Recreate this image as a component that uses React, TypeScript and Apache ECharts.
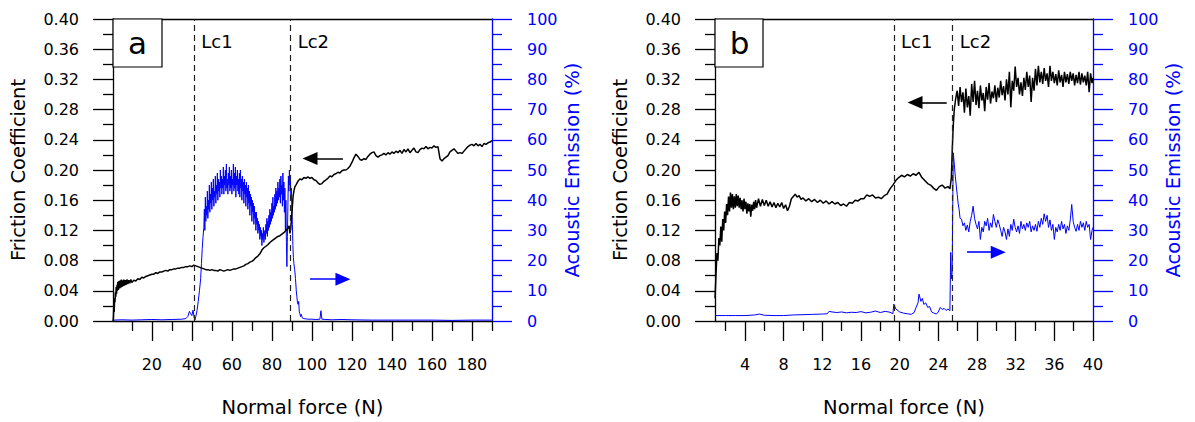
import React, { useEffect, useRef } from 'react';
import * as echarts from 'echarts';

// ---------- Panel a data ----------
const aFriction: number[][] = [
  [0.6,0.0],[0.8,0.005],[1.0,0.02],[1.2,0.012],[1.4,0.03],[1.6,0.025],[1.8,0.038],[2.0,0.032],[2.2,0.045],[2.4,0.036],
  [2.6,0.048],[2.8,0.040],[3.0,0.052],[3.3,0.041],[3.6,0.053],[3.9,0.043],[4.2,0.054],[4.5,0.044],[4.8,0.055],[5.1,0.045],
  [5.4,0.054],[5.7,0.046],[6.0,0.055],[6.4,0.047],[6.8,0.054],[7.2,0.048],[7.6,0.055],[8.0,0.049],[8.5,0.054],[9.0,0.050],
  [9.5,0.055],[10,0.051],[11,0.054],[12,0.053],[13,0.056],[14,0.055],[15,0.058],[16,0.057],[17,0.059],[18,0.060],
  [19,0.061],[20,0.062],[21,0.062],[22,0.064],[23,0.063],[24,0.065],[25,0.065],[26,0.066],[27,0.067],[28,0.066],
  [29,0.068],[30,0.068],[31,0.069],[32,0.069],[33,0.070],[34,0.070],[35,0.071],[36,0.071],[37,0.072],[38,0.072],
  [39,0.073],[40,0.072],[41,0.074],[42,0.073],[43,0.072],[44,0.071],[45,0.070],[46,0.069],[47,0.068],[48,0.068],
  [49,0.067],[50,0.068],[51,0.067],[52,0.067],[53,0.066],[54,0.068],[55,0.067],[56,0.066],[57,0.067],[58,0.068],
  [59,0.067],[60,0.068],[61,0.069],[62,0.069],[63,0.070],[64,0.071],[65,0.072],[66,0.073],[67,0.075],[68,0.076],
  [69,0.078],[70,0.079],[71,0.081],[72,0.084],[73,0.086],[74,0.089],[75,0.094],[76,0.097],[77,0.099],[78,0.101],
  [79,0.104],[80,0.106],[81,0.108],[82,0.110],[83,0.112],[84,0.113],[85,0.115],[86,0.117],[87,0.120],[88,0.123],
  [88.6,0.126],[89.0,0.116],[89.4,0.122],[89.8,0.135],[90.2,0.150],[90.6,0.165],[91.0,0.172],[91.5,0.178],[92,0.180],[93,0.185],
  [94,0.188],[95,0.187],[96,0.190],[97,0.189],[98,0.191],[99,0.189],[100,0.190],[101,0.187],[102,0.186],[103,0.183],
  [104,0.181],[105,0.182],[106,0.185],[107,0.187],[108,0.189],[109,0.192],[110,0.191],[111,0.194],[112,0.195],[113,0.197],
  [114,0.196],[115,0.199],[116,0.200],[117,0.200],[118,0.202],[119,0.205],[120,0.210],[121,0.216],[122,0.221],[123,0.218],
  [124,0.214],[125,0.213],[126,0.215],[127,0.214],[128,0.218],[129,0.221],[130,0.223],[131,0.224],[132,0.219],[133,0.217],
  [134,0.219],[135,0.220],[136,0.222],[137,0.220],[138,0.223],[139,0.221],[140,0.224],[141,0.222],[142,0.225],[143,0.223],
  [144,0.226],[145,0.222],[146,0.227],[147,0.224],[148,0.228],[149,0.223],[150,0.226],[151,0.229],[152,0.224],[153,0.223],
  [154,0.227],[155,0.229],[156,0.228],[157,0.231],[158,0.228],[159,0.230],[160,0.229],[161,0.232],[162,0.230],[163,0.231],
  [164,0.215],[165,0.212],[166,0.215],[167,0.217],[168,0.219],[169,0.224],[170,0.226],[171,0.228],[172,0.225],[173,0.222],
  [174,0.223],[175,0.222],[176,0.225],[177,0.228],[178,0.231],[179,0.233],[180,0.234],[181,0.232],[182,0.235],[183,0.232],
  [184,0.234],[185,0.231],[186,0.235],[187,0.234],[188,0.236],[189,0.237],[190,0.239]
];

const aAE: number[][] = [
  [0.6,0.3],[5,0.4],[10,0.3],[15,0.4],[20,0.5],[25,0.4],[30,0.5],[35,0.6],[37,0.8],[38,1.5],
  [38.8,3.2],[39.4,2.4],[40,1.8],[40.6,3.6],[41.2,1.0],[41.6,0.4],[42,1.5],[42.6,3.5],[43.2,6.5],[43.8,10],
  [44.4,14],[44.8,19],[45.2,24],[45.6,28],
  [46.0,31],[46.25,37],[46.5,30],[46.75,41],[47.0,33],[47.25,38],[47.5,35],[47.75,43],[48.0,34],[48.25,40],
  [48.5,37],[48.75,45],[49.0,36],[49.25,42],[49.5,39],[49.75,46],[50.0,37],[50.25,44],[50.5,40],[50.75,47],
  [51.0,38],[51.25,43],[51.5,41],[51.75,48],[52.0,39],[52.25,45],[52.5,42],[52.75,49],[53.0,40],[53.25,47],
  [53.5,43],[53.75,46],[54.0,41],[54.25,50],[54.5,44],[54.75,48],[55.0,42],[55.25,47],[55.5,44],[55.75,51],
  [56.0,42],[56.25,48],[56.5,45],[56.75,50],[57.0,43],[57.25,52],[57.5,44],[57.75,47],[58.0,42],[58.25,49],
  [58.5,45],[58.75,51],[59.0,43],[59.25,48],[59.5,44],[59.75,50],[60.0,42],[60.25,47],[60.5,45],[60.75,52],
  [61.0,43],[61.25,49],[61.5,44],[61.75,51],[62.0,41],[62.25,48],[62.5,45],[62.75,50],[63.0,43],[63.25,47],
  [63.5,42],[63.75,49],[64.0,41],[64.25,50],[64.5,44],[64.75,47],[65.0,40],[65.25,48],[65.5,43],[65.75,46],
  [66.0,39],[66.25,47],[66.5,42],[66.75,45],[67.0,38],[67.25,46],[67.5,41],[67.75,44],[68.0,37],[68.25,45],
  [68.5,39],[68.75,43],[69.0,35],[69.25,42],[69.5,38],[69.75,41],[70.0,33],[70.25,40],[70.5,36],[70.75,39],
  [71.0,32],[71.25,38],[71.5,34],[71.75,36],[72.0,30],[72.25,36],[72.5,32],[72.75,34],[73.0,29],[73.25,33],
  [73.5,30],[73.75,32],[74.0,27],[74.25,31],[74.5,28],[74.75,30],[75.0,25],[75.25,29],[75.5,27],[75.75,31],
  [76.0,26],[76.25,28],[76.5,30],[76.75,27],[77.0,32],[77.25,29],[77.5,34],[77.75,28],[78.0,33],[78.25,30],
  [78.5,35],[78.75,31],[79.0,37],[79.25,32],[79.5,36],[79.75,33],[80.0,39],[80.25,34],[80.5,41],[80.75,35],
  [81.0,38],[81.25,36],[81.5,42],[81.75,37],[82.0,44],[82.25,38],[82.5,43],[82.75,39],[83.0,46],[83.25,40],
  [83.5,44],[83.75,41],[84.0,47],[84.25,39],[84.5,48],[84.75,42],[85.0,45],[85.25,38],[85.5,49],[85.75,40],
  [86.0,46],[86.25,36],[86.5,44],[86.75,30],[87.0,40],[87.25,26],[87.5,18],[87.75,28],[88.0,38],[88.25,48],
  [88.5,43],[88.75,50],[89.0,45],[89.25,48],[89.5,40],[89.75,44],[90.0,36],[90.25,32],[90.5,25],[90.75,21],
  [91,19],[91.4,17],[91.8,14],[92.2,10],[92.5,8],[92.8,6],[93.1,5.5],[93.4,6.5],[93.7,3],[94,2.5],
  [94.3,1.5],[94.7,2.2],[95.2,1],[96,0.8],[98,0.6],[100,0.6],[102,0.5],[104,0.6],[104.5,3.4],[105,0.6],
  [107,0.5],[110,0.4],[115,0.5],[120,0.4],[130,0.3],[140,0.3],[150,0.3],[160,0.3],[170,0.2],[180,0.3],[190,0.3]
];

// ---------- Panel b data ----------
const bFriction: number[][] = [
  [0.9,0.03],[1.0,0.06],[1.1,0.09],[1.2,0.08],[1.3,0.11],[1.4,0.10],[1.5,0.125],[1.6,0.105],[1.7,0.135],[1.8,0.12],
  [1.9,0.145],[2.0,0.13],[2.1,0.155],[2.2,0.14],[2.3,0.165],[2.4,0.145],[2.5,0.17],[2.6,0.15],[2.7,0.168],[2.8,0.148],
  [2.9,0.165],[3.0,0.15],[3.1,0.168],[3.2,0.152],[3.3,0.166],[3.4,0.15],[3.5,0.163],[3.6,0.148],[3.7,0.16],[3.8,0.145],
  [3.9,0.162],[4.0,0.148],[4.1,0.158],[4.2,0.142],[4.3,0.156],[4.4,0.145],[4.5,0.155],[4.6,0.138],[4.7,0.154],[4.8,0.146],
  [4.9,0.158],[5.0,0.148],[5.1,0.16],[5.2,0.15],[5.4,0.162],[5.6,0.152],[5.8,0.161],[6.0,0.153],[6.2,0.16],[6.4,0.152],
  [6.6,0.158],[6.8,0.151],[7.0,0.157],[7.2,0.15],[7.4,0.156],[7.6,0.151],[7.8,0.157],[8.0,0.149],[8.2,0.154],[8.4,0.146],
  [8.6,0.152],[8.8,0.162],[9.0,0.165],[9.2,0.168],[9.4,0.164],[9.6,0.166],[9.8,0.161],[10.0,0.163],[10.3,0.159],[10.6,0.162],
  [10.9,0.158],[11.2,0.161],[11.5,0.157],[11.8,0.16],[12.1,0.156],[12.4,0.159],[12.7,0.155],[13.0,0.158],[13.3,0.155],[13.6,0.157],
  [13.9,0.153],[14.2,0.155],[14.5,0.152],[14.8,0.157],[15.1,0.156],[15.4,0.16],[15.7,0.159],[16.0,0.162],[16.3,0.162],[16.6,0.167],
  [16.9,0.165],[17.2,0.167],[17.5,0.163],[17.8,0.164],[18.1,0.162],[18.4,0.166],[18.7,0.168],[19.0,0.175],[19.3,0.18],[19.6,0.186],
  [19.9,0.19],[20.2,0.193],[20.5,0.191],[20.8,0.194],[21.1,0.192],[21.4,0.195],[21.7,0.193],[22.0,0.197],[22.3,0.19],[22.6,0.186],
  [22.9,0.182],[23.2,0.18],[23.5,0.176],[23.8,0.173],[24.1,0.178],[24.4,0.18],[24.7,0.176],[25.0,0.178],[25.2,0.175],[25.35,0.19],
  [25.45,0.23],[25.55,0.26],[25.65,0.28],[25.8,0.295],[25.95,0.305],[26.1,0.285],[26.25,0.31],[26.4,0.29],[26.55,0.303],[26.7,0.276],
  [26.85,0.308],[27.0,0.283],[27.15,0.298],[27.3,0.272],[27.45,0.314],[27.6,0.29],[27.75,0.318],[27.9,0.286],[28.05,0.305],[28.2,0.282],
  [28.35,0.312],[28.5,0.292],[28.65,0.302],[28.8,0.278],[28.95,0.31],[29.1,0.293],[29.25,0.315],[29.4,0.288],[29.55,0.304],[29.7,0.295],
  [29.85,0.312],[30.0,0.29],[30.15,0.309],[30.3,0.296],[30.45,0.318],[30.6,0.299],[30.75,0.311],[30.9,0.292],[31.05,0.32],[31.2,0.3],
  [31.35,0.33],[31.5,0.283],[31.65,0.318],[31.8,0.305],[31.95,0.337],[32.1,0.31],[32.25,0.322],[32.4,0.3],[32.55,0.316],[32.7,0.298],
  [32.85,0.322],[33.0,0.306],[33.15,0.33],[33.3,0.31],[33.45,0.325],[33.6,0.29],[33.75,0.322],[33.9,0.305],[34.05,0.334],[34.2,0.312],
  [34.35,0.338],[34.5,0.316],[34.65,0.33],[34.8,0.314],[34.95,0.335],[35.1,0.318],[35.25,0.328],[35.4,0.31],[35.55,0.338],[35.7,0.318],
  [35.85,0.33],[36.0,0.315],[36.15,0.327],[36.3,0.312],[36.45,0.332],[36.6,0.316],[36.75,0.326],[36.9,0.31],[37.05,0.33],[37.2,0.316],
  [37.35,0.327],[37.5,0.314],[37.65,0.33],[37.8,0.318],[37.95,0.328],[38.1,0.312],[38.25,0.326],[38.4,0.315],[38.55,0.33],[38.7,0.313],
  [38.85,0.328],[39.0,0.316],[39.15,0.325],[39.3,0.312],[39.45,0.33],[39.6,0.303],[39.75,0.328],[39.9,0.315],[40.0,0.322]
];

const bAE: number[][] = [
  [0.9,1.8],[2,1.8],[3,1.8],[4,1.8],[5,2.0],[5.5,2.3],[6,1.9],[7,1.8],[8,1.8],[9,2.0],
  [10,2.1],[11,2.2],[12,2.3],[12.5,2.4],[12.7,3.2],[13,3.0],[13.5,2.8],[14,3.0],[14.5,2.7],[15,2.9],
  [15.5,2.8],[16,3.1],[16.5,2.7],[17,2.9],[17.5,3.3],[18,2.8],[18.5,3.2],[19,2.9],[19.3,2.4],[19.4,5.6],
  [19.6,4.0],[20,3.0],[20.4,2.6],[20.8,2.4],[21.2,2.2],[21.5,2.8],[21.7,4.5],[21.9,6.0],[22.0,8.9],[22.2,6.5],
  [22.35,7.5],[22.5,5.5],[22.7,6.0],[22.9,4.5],[23.1,4.8],[23.3,3.0],[23.5,2.7],[23.8,2.3],[24.0,3.0],[24.2,4.5],
  [24.4,3.8],[24.6,4.2],[24.8,3.5],[25.0,4.0],[25.2,3.4],[25.28,22.7],[25.35,14],[25.43,16],[25.5,40],[25.55,55.7],
  [25.65,52],[25.75,48],[25.85,45],[25.95,42],[26.05,39],[26.15,37],[26.25,34],[26.4,33.7],[26.55,31.5],[26.7,32.5],
  [26.85,30],[27.0,31.8],[27.15,29.5],[27.3,33],[27.45,35],[27.6,38],[27.75,34],[27.9,32],[28.05,30.5],[28.2,33],
  [28.35,27],[28.5,31],[28.65,29.5],[28.8,33],[28.95,31.5],[29.1,34],[29.25,30],[29.4,32.5],[29.55,31],[29.7,35.3],
  [29.85,33],[30.0,31],[30.15,33.5],[30.3,32],[30.45,30],[30.6,28],[30.75,31],[30.9,29.5],[31.05,27],[31.2,30.5],
  [31.35,28],[31.5,32],[31.65,30],[31.8,33.7],[31.95,31],[32.1,29.5],[32.25,31.5],[32.4,29],[32.55,33],[32.7,30.5],
  [32.85,32],[33.0,30],[33.15,32.5],[33.3,31],[33.45,33],[33.6,29.5],[33.75,31.5],[33.9,30],[34.05,32],[34.2,29.7],
  [34.35,33],[34.5,31],[34.65,34],[34.8,32],[34.95,35.5],[35.1,33],[35.25,35],[35.4,31],[35.55,33.5],[35.7,30],
  [35.85,32],[36.0,27],[36.15,31],[36.3,29.5],[36.45,32],[36.6,30],[36.75,33],[36.9,30.5],[37.05,32],[37.2,29],
  [37.35,31.5],[37.5,30],[37.65,33.5],[37.8,38.6],[37.95,33],[38.1,31],[38.25,29.7],[38.4,32],[38.55,30],[38.7,33],
  [38.85,31],[39.0,32.5],[39.15,30],[39.3,33],[39.45,31],[39.6,32],[39.75,27],[39.9,30],[40.0,31]
];

// ---------- Axis ticks & annotations ----------
const aXMajor = [20, 40, 60, 80, 100, 120, 140, 160, 180];
const aXMinor = [10, 30, 50, 70, 90, 110, 130, 150, 170, 190];
const bXMajor = [4, 8, 12, 16, 20, 24, 28, 32, 36, 40];
const bXMinor = [2, 6, 10, 14, 18, 22, 26, 30, 34, 38];
const aXRange = [0.6, 190];
const bXRange = [0.9, 40];
const aLc = [41.2, 89.4];
const bLc = [19.42, 25.49];
const lcNames = ['Lc1', 'Lc2'];
const lcLabelY = 0.37;
// arrows: [tailX, tipX, y]
const aFrictionArrow = [115.5, 99.05, 0.2152];
const aAEArrow = [99.05, 115.5, 13.86];
const bFrictionArrow = [24.87, 21.59, 0.2895];
const bAEArrow = [26.97, 30.2, 22.77];

const FONT = 'DejaVu Sans';
const BLUE = '#0000ff';
const BLACK = '#000000';
const AX_W = 1.3;
const NAME_SIZE = 19.5;

function xMajorAxis(gridIndex: number, range: number[], ticks: number[]) {
  return {
    type: 'value', gridIndex, min: range[0], max: range[1], position: 'bottom',
    name: 'Normal force (N)', nameLocation: 'middle', nameGap: 76,
    nameTextStyle: { fontFamily: FONT, fontSize: NAME_SIZE, color: BLACK },
    axisLine: { show: true, onZero: false, lineStyle: { color: BLACK, width: AX_W } },
    axisTick: { show: true, customValues: ticks, length: 20, lineStyle: { color: BLACK, width: AX_W } },
    axisLabel: { show: true, customValues: ticks, margin: 35, fontFamily: FONT, fontSize: 16, color: BLACK },
    splitLine: { show: false },
  };
}
function xMinorAxis(gridIndex: number, range: number[], ticks: number[]) {
  return {
    type: 'value', gridIndex, min: range[0], max: range[1], position: 'bottom',
    axisLine: { show: false, onZero: false },
    axisTick: { show: true, customValues: ticks, length: 10, lineStyle: { color: BLACK, width: AX_W } },
    axisLabel: { show: false },
    splitLine: { show: false },
  };
}
function xTopAxis(gridIndex: number, range: number[]) {
  return {
    type: 'value', gridIndex, min: range[0], max: range[1], position: 'top',
    axisLine: { show: true, onZero: false, lineStyle: { color: BLACK, width: AX_W } },
    axisTick: { show: false }, axisLabel: { show: false }, splitLine: { show: false },
  };
}
function yLeftAxis(gridIndex: number) {
  return {
    type: 'value', gridIndex, min: 0, max: 0.4, interval: 0.04, position: 'left',
    name: 'Friction Coefficient', nameLocation: 'middle', nameGap: 85,
    nameTextStyle: { fontFamily: FONT, fontSize: NAME_SIZE, color: BLACK },
    axisLine: { show: true, onZero: false, lineStyle: { color: BLACK, width: AX_W } },
    axisTick: { show: true, length: 20, lineStyle: { color: BLACK, width: AX_W } },
    minorTick: { show: true, splitNumber: 2, length: 10, lineStyle: { color: BLACK, width: AX_W } },
    axisLabel: { margin: 34, fontFamily: FONT, fontSize: 16, color: BLACK, formatter: (v: number) => v.toFixed(2) },
    splitLine: { show: false }, minorSplitLine: { show: false },
  };
}
function yRightAxis(gridIndex: number) {
  return {
    type: 'value', gridIndex, min: 0, max: 100, interval: 10, position: 'right',
    name: 'Acoustic Emission (%)', nameLocation: 'middle', nameGap: 70,
    nameTextStyle: { fontFamily: FONT, fontSize: NAME_SIZE, color: BLUE },
    axisLine: { show: true, onZero: false, lineStyle: { color: BLUE, width: AX_W } },
    axisTick: { show: true, length: 20, lineStyle: { color: BLUE, width: AX_W } },
    minorTick: { show: true, splitNumber: 2, length: 10, lineStyle: { color: BLUE, width: AX_W } },
    axisLabel: { margin: 35, fontFamily: FONT, fontSize: 16, color: BLUE },
    splitLine: { show: false }, minorSplitLine: { show: false },
  };
}

function arrowLine(arr: number[], color: string) {
  return [
    { coord: [arr[0], arr[2]], symbol: 'none', lineStyle: { type: 'solid', color, width: 1.6 } },
    { coord: [arr[1], arr[2]], symbol: 'triangle', symbolSize: [13, 15] },
  ];
}

function frictionSeries(xi: number, yi: number, data: number[][], lc: number[], arrow: number[]) {
  return {
    type: 'line', xAxisIndex: xi, yAxisIndex: yi, data, showSymbol: false, symbol: 'none',
    lineStyle: { color: BLACK, width: 1.5 }, itemStyle: { color: BLACK }, z: 3, silent: true,
    markLine: {
      silent: true, symbol: ['none', 'none'], animation: false,
      label: { show: false },
      lineStyle: { color: '#222', width: 1.2, type: [6, 4] },
      data: [
        { xAxis: lc[0] },
        { xAxis: lc[1] },
        arrowLine(arrow, BLACK),
      ],
    },
    markPoint: {
      silent: true, symbol: 'circle', symbolSize: 0, animation: false,
      label: { show: true, position: 'right', distance: 7, fontFamily: FONT, fontSize: 18, color: BLACK, formatter: (p: any) => p.name },
      data: lc.map((v, i) => ({ name: lcNames[i], coord: [v, lcLabelY] })),
    },
  };
}
function aeSeries(xi: number, yi: number, data: number[][], arrow: number[]) {
  return {
    type: 'line', xAxisIndex: xi, yAxisIndex: yi, data, showSymbol: false, symbol: 'none',
    lineStyle: { color: BLUE, width: 1 }, itemStyle: { color: BLUE }, z: 2, silent: true,
    markLine: {
      silent: true, symbol: ['none', 'none'], animation: false,
      label: { show: false },
      itemStyle: { color: BLUE },
      lineStyle: { color: BLUE, width: 1.6, type: 'solid' },
      data: [arrowLine(arrow, BLUE)],
    },
  };
}

export default function App() {
  const ref = useRef<HTMLDivElement>(null);
  useEffect(() => {
    if (!ref.current) return;
    const chart = echarts.init(ref.current, null, { renderer: 'svg' });
    const option: any = {
      animation: false,
      backgroundColor: '#ffffff',
      grid: [
        { left: 113, top: 19, width: 379, height: 303, containLabel: false },
        { left: 715, top: 19, width: 378, height: 303, containLabel: false },
      ],
      xAxis: [
        xMajorAxis(0, aXRange, aXMajor), xMinorAxis(0, aXRange, aXMinor), xTopAxis(0, aXRange),
        xMajorAxis(1, bXRange, bXMajor), xMinorAxis(1, bXRange, bXMinor), xTopAxis(1, bXRange),
      ],
      yAxis: [yLeftAxis(0), yRightAxis(0), yLeftAxis(1), yRightAxis(1)],
      series: [
        aeSeries(0, 1, aAE, aAEArrow),
        frictionSeries(0, 0, aFriction, aLc, aFrictionArrow),
        aeSeries(3, 3, bAE, bAEArrow),
        frictionSeries(3, 2, bFriction, bLc, bFrictionArrow),
      ],
      graphic: [
        { type: 'rect', shape: { x: 113, y: 19, width: 49, height: 48 }, style: { fill: '#fff', stroke: BLACK, lineWidth: 1.2 }, z: 10 },
        { type: 'text', x: 137.5, y: 43, style: { text: 'a', fontFamily: FONT, fontSize: 31, fill: BLACK, textAlign: 'center', textVerticalAlign: 'middle' }, z: 11 },
        { type: 'rect', shape: { x: 715, y: 19, width: 48, height: 48 }, style: { fill: '#fff', stroke: BLACK, lineWidth: 1.2 }, z: 10 },
        { type: 'text', x: 739.5, y: 43, style: { text: 'b', fontFamily: FONT, fontSize: 31, fill: BLACK, textAlign: 'center', textVerticalAlign: 'middle' }, z: 11 },
      ],
    };
    chart.setOption(option);
    return () => chart.dispose();
  }, []);
  return <div ref={ref} style={{ position: 'absolute', left: 0, top: 0, width: 1195, height: 422 }} />;
}
